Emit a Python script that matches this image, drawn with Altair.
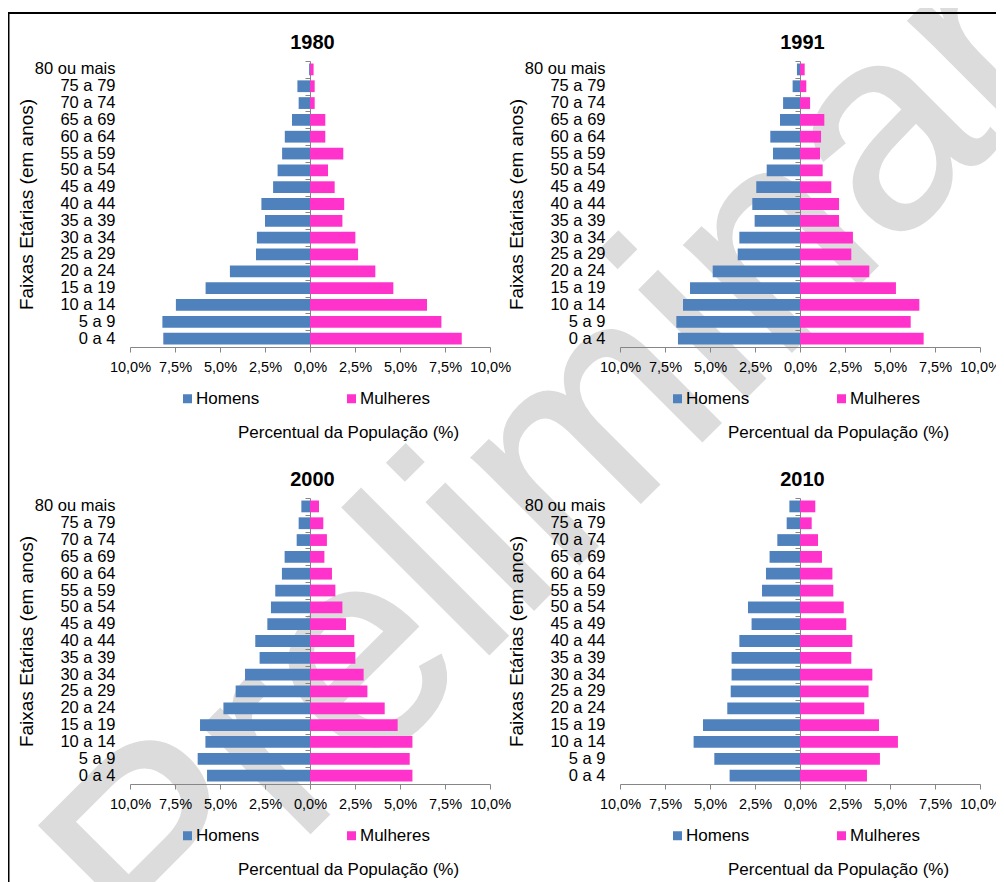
import altair as alt
import pandas as pd

# ---------------- data ----------------
faixas = ["80 ou mais", "75 a 79", "70 a 74", "65 a 69", "60 a 64", "55 a 59",
          "50 a 54", "45 a 49", "40 a 44", "35 a 39", "30 a 34", "25 a 29",
          "20 a 24", "15 a 19", "10 a 14", "5 a 9", "0 a 4"]
anos = ["1980", "1991", "2000", "2010"]

homens_1980 = [0.05, 0.70, 0.63, 1.00, 1.40, 1.55, 1.80, 2.05, 2.70, 2.50, 2.95, 3.00, 4.45, 5.80, 7.45, 8.20, 8.15]
mulheres_1980 = [0.20, 0.26, 0.26, 0.85, 0.85, 1.85, 1.00, 1.37, 1.90, 1.80, 2.52, 2.67, 3.63, 4.63, 6.50, 7.30, 8.43]

homens_1991 = [0.17, 0.41, 0.94, 1.11, 1.65, 1.50, 1.85, 2.43, 2.65, 2.52, 3.37, 3.46, 4.85, 6.11, 6.50, 6.87, 6.78]
mulheres_1991 = [0.26, 0.35, 0.56, 1.35, 1.17, 1.11, 1.26, 1.74, 2.17, 2.17, 2.94, 2.85, 3.85, 5.33, 6.63, 6.15, 6.87]

homens_2000 = [0.48, 0.63, 0.74, 1.41, 1.56, 1.93, 2.17, 2.37, 3.04, 2.80, 3.61, 4.13, 4.81, 6.11, 5.81, 6.24, 5.72]
mulheres_2000 = [0.50, 0.74, 0.94, 0.80, 1.22, 1.41, 1.80, 2.00, 2.46, 2.52, 2.98, 3.19, 4.15, 4.87, 5.69, 5.54, 5.69]

homens_2010 = [0.59, 0.74, 1.26, 1.69, 1.89, 2.11, 2.89, 2.69, 3.37, 3.80, 3.80, 3.85, 4.04, 5.39, 5.91, 4.76, 3.91]
mulheres_2010 = [0.85, 0.65, 1.00, 1.22, 1.80, 1.85, 2.43, 2.57, 2.91, 2.85, 4.02, 3.81, 3.57, 4.39, 5.44, 4.44, 3.72]

sexos = ["Homens", "Mulheres"]
cores = ["#4F81BD", "#FF33CC"]
x_ticks = [-10, -7.5, -5, -2.5, 0, 2.5, 5, 7.5, 10]
watermark_text = ["Preliminar"]

homens = {"1980": homens_1980, "1991": homens_1991, "2000": homens_2000, "2010": homens_2010}
mulheres = {"1980": mulheres_1980, "1991": mulheres_1991, "2000": mulheres_2000, "2010": mulheres_2010}

rows = []
for ano in anos:
    for f, h, m in zip(faixas, homens[ano], mulheres[ano]):
        rows.append({"ano": ano, "faixa": f, "sexo": "Homens", "valor": -h})
        rows.append({"ano": ano, "faixa": f, "sexo": "Mulheres", "valor": m})
df = pd.DataFrame(rows)

# ---------------- style ----------------
GRAY = "#868686"
FONT = "Liberation Sans"
W, H = 360, 286


def yscale():
    return alt.Scale(type="band", paddingInner=0, paddingOuter=0)


def xscale():
    return alt.Scale(domain=[-10, 10], nice=False)


def panel(ano, extra=()):
    d = df[df.ano == ano]
    bars = alt.Chart(d).mark_bar(height=alt.RelativeBandSize(0.7)).encode(
        x=alt.X(
            "valor:Q",
            scale=xscale(),
            axis=alt.Axis(
                orient="bottom",
                values=x_ticks,
                labelExpr="replace(format(abs(datum.value), '.1f'), '.', ',') + '%'",
                title="Percentual da População (%)",
                titleX=218, titleY=90, titleAlign="center", titleBaseline="alphabetic",
                titleFontSize=17, titleFontWeight="normal", titleColor="black",
                labelFontSize=14.5, labelColor="black", labelPadding=8,
                labelOverlap=False, labelFlush=False, labelBound=False,
                domainColor=GRAY, tickColor=GRAY, tickSize=5, grid=False,
            ),
        ),
        y=alt.Y(
            "faixa:N", sort=faixas, scale=yscale(),
            axis=alt.Axis(
                orient="left",
                title="Faixas Etárias (em anos)",
                titleX=-104, titleY=H / 2, titleAngle=270, titleAlign="center",
                titleBaseline="middle", titleFontSize=19, titleFontWeight="normal",
                titleColor="black",
                labelFontSize=16.5, labelColor="black", labelPadding=15,
                domain=False, ticks=False, tickSize=0, grid=False,
            ),
        ),
        color=alt.Color(
            "sexo:N",
            scale=alt.Scale(domain=sexos, range=cores),
            legend=alt.Legend(
                title=None, orient="none", legendX=49, legendY=329,
                direction="horizontal", symbolType="square", symbolSize=81,
                symbolStrokeWidth=0, labelFontSize=17, labelColor="black",
                labelOffset=0, columnPadding=83, padding=0,
            ),
        ),
    )
    center = alt.Chart(d).mark_bar(opacity=0).encode(
        x=alt.X(
            "valor:Q", scale=xscale(),
            axis=alt.Axis(
                orient="top", title=ano, titleX=182, titleY=-13,
                titleAlign="center", titleBaseline="alphabetic",
                titleFontSize=20, titleFontWeight="bold", titleColor="black",
                labels=False, ticks=False, domain=False, grid=False,
            ),
        ),
        y=alt.Y(
            "faixa:N", sort=faixas, scale=yscale(),
            axis=alt.Axis(
                orient="left", offset=-W / 2, labels=False, title=None,
                domain=True, domainColor=GRAY, ticks=True, tickColor=GRAY,
                tickSize=5, tickBand="extent", grid=False,
            ),
        ),
    )
    return alt.layer(*extra, center, bars).resolve_axis(
        x="independent", y="independent"
    ).properties(width=W, height=H)


frame = alt.Chart(pd.DataFrame({"k": [0]})).mark_rect(
    fillOpacity=0, stroke="black", strokeWidth=2
).encode(x=alt.value(-121.5), y=alt.value(-48), x2=alt.value(1500), y2=alt.value(1500))

watermark = alt.Chart(pd.DataFrame({"t": watermark_text})).mark_text(
    angle=315, font=FONT, fontSize=285, color="#DCDCDC",
    stroke="#DCDCDC", strokeWidth=3,
    align="center", baseline="alphabetic",
).encode(x=alt.value(485.7), y=alt.value(466.1), text="t:N")

p1 = panel("1980", extra=(watermark, frame))
p2 = panel("1991")
p3 = panel("2000")
p4 = panel("2010")

chart = alt.concat(
    p1, p2, p3, p4, columns=2,
    spacing=alt.RowColnumber(row=151, column=130), bounds="flush",
).resolve_scale(color="independent").properties(
    autosize=alt.AutoSizeParams(type="none"),
    padding={"left": 122, "top": 53, "right": 866, "bottom": 821},
    background="white",
).configure(font=FONT).configure_view(stroke=None)

chart.save("out.html", embed_options={"renderer": "svg", "actions": False})
